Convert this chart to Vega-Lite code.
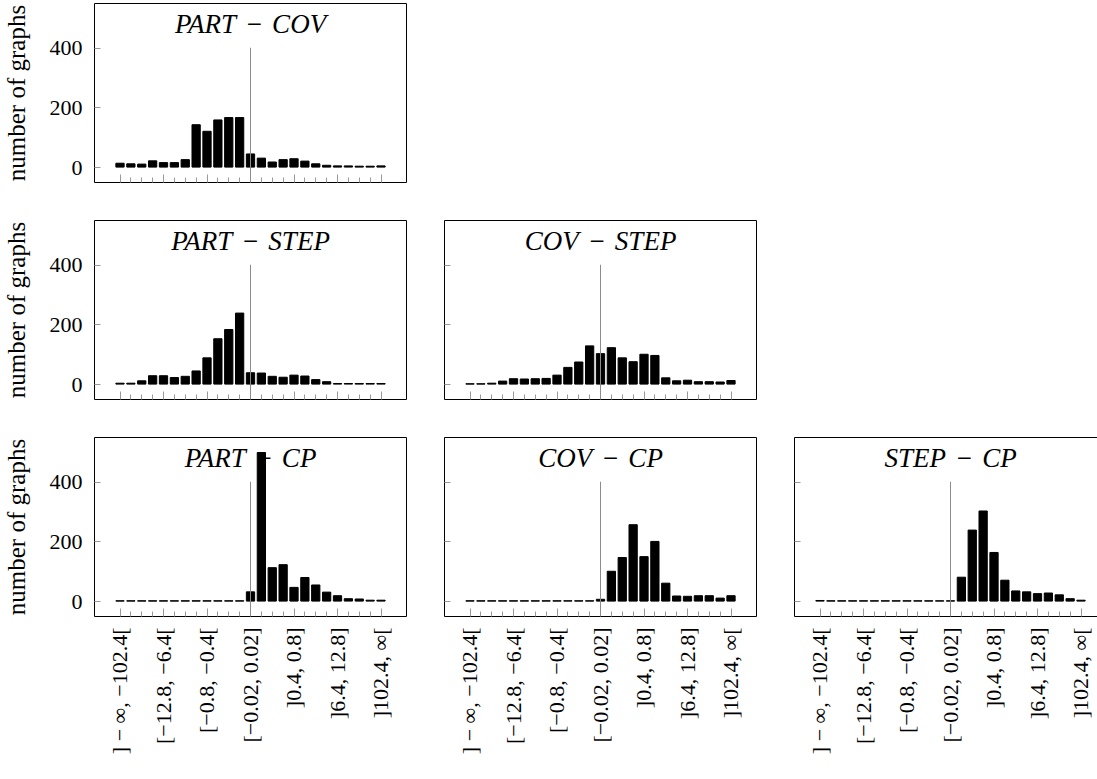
{
  "$schema": "https://vega.github.io/schema/vega-lite/v6.json",
  "padding": {"left": 3, "top": 2, "right": 0, "bottom": 0},
  "background": "white",
  "data": {"values": [
    {"pair":"PART-COV","idx":0,"count":13},{"pair":"PART-COV","idx":1,"count":11},{"pair":"PART-COV","idx":2,"count":10},{"pair":"PART-COV","idx":3,"count":21},{"pair":"PART-COV","idx":4,"count":15},{"pair":"PART-COV","idx":5,"count":15},{"pair":"PART-COV","idx":6,"count":25},{"pair":"PART-COV","idx":7,"count":142},{"pair":"PART-COV","idx":8,"count":120},{"pair":"PART-COV","idx":9,"count":158},{"pair":"PART-COV","idx":10,"count":166},{"pair":"PART-COV","idx":11,"count":166},{"pair":"PART-COV","idx":12,"count":44},{"pair":"PART-COV","idx":13,"count":30},{"pair":"PART-COV","idx":14,"count":17},{"pair":"PART-COV","idx":15,"count":25},{"pair":"PART-COV","idx":16,"count":28},{"pair":"PART-COV","idx":17,"count":20},{"pair":"PART-COV","idx":18,"count":11},{"pair":"PART-COV","idx":19,"count":6},{"pair":"PART-COV","idx":20,"count":4},{"pair":"PART-COV","idx":21,"count":4},{"pair":"PART-COV","idx":22,"count":3},{"pair":"PART-COV","idx":23,"count":3},{"pair":"PART-COV","idx":24,"count":4},
    {"pair":"PART-STEP","idx":0,"count":3},{"pair":"PART-STEP","idx":1,"count":3},{"pair":"PART-STEP","idx":2,"count":11},{"pair":"PART-STEP","idx":3,"count":28},{"pair":"PART-STEP","idx":4,"count":28},{"pair":"PART-STEP","idx":5,"count":22},{"pair":"PART-STEP","idx":6,"count":26},{"pair":"PART-STEP","idx":7,"count":44},{"pair":"PART-STEP","idx":8,"count":88},{"pair":"PART-STEP","idx":9,"count":152},{"pair":"PART-STEP","idx":10,"count":183},{"pair":"PART-STEP","idx":11,"count":238},{"pair":"PART-STEP","idx":12,"count":38},{"pair":"PART-STEP","idx":13,"count":37},{"pair":"PART-STEP","idx":14,"count":26},{"pair":"PART-STEP","idx":15,"count":23},{"pair":"PART-STEP","idx":16,"count":30},{"pair":"PART-STEP","idx":17,"count":27},{"pair":"PART-STEP","idx":18,"count":15},{"pair":"PART-STEP","idx":19,"count":8},{"pair":"PART-STEP","idx":20,"count":2},{"pair":"PART-STEP","idx":21,"count":2},{"pair":"PART-STEP","idx":22,"count":2},{"pair":"PART-STEP","idx":23,"count":2},{"pair":"PART-STEP","idx":24,"count":2},
    {"pair":"COV-STEP","idx":0,"count":1},{"pair":"COV-STEP","idx":1,"count":1},{"pair":"COV-STEP","idx":2,"count":3},{"pair":"COV-STEP","idx":3,"count":10},{"pair":"COV-STEP","idx":4,"count":18},{"pair":"COV-STEP","idx":5,"count":17},{"pair":"COV-STEP","idx":6,"count":18},{"pair":"COV-STEP","idx":7,"count":19},{"pair":"COV-STEP","idx":8,"count":30},{"pair":"COV-STEP","idx":9,"count":56},{"pair":"COV-STEP","idx":10,"count":74},{"pair":"COV-STEP","idx":11,"count":128},{"pair":"COV-STEP","idx":12,"count":102},{"pair":"COV-STEP","idx":13,"count":122},{"pair":"COV-STEP","idx":14,"count":88},{"pair":"COV-STEP","idx":15,"count":75},{"pair":"COV-STEP","idx":16,"count":100},{"pair":"COV-STEP","idx":17,"count":96},{"pair":"COV-STEP","idx":18,"count":21},{"pair":"COV-STEP","idx":19,"count":11},{"pair":"COV-STEP","idx":20,"count":13},{"pair":"COV-STEP","idx":21,"count":8},{"pair":"COV-STEP","idx":22,"count":8},{"pair":"COV-STEP","idx":23,"count":7},{"pair":"COV-STEP","idx":24,"count":12},
    {"pair":"PART-CP","idx":0,"count":1},{"pair":"PART-CP","idx":1,"count":1},{"pair":"PART-CP","idx":2,"count":1},{"pair":"PART-CP","idx":3,"count":1},{"pair":"PART-CP","idx":4,"count":1},{"pair":"PART-CP","idx":5,"count":1},{"pair":"PART-CP","idx":6,"count":1},{"pair":"PART-CP","idx":7,"count":1},{"pair":"PART-CP","idx":8,"count":1},{"pair":"PART-CP","idx":9,"count":1},{"pair":"PART-CP","idx":10,"count":1},{"pair":"PART-CP","idx":11,"count":1},{"pair":"PART-CP","idx":12,"count":31},{"pair":"PART-CP","idx":13,"count":498},{"pair":"PART-CP","idx":14,"count":112},{"pair":"PART-CP","idx":15,"count":122},{"pair":"PART-CP","idx":16,"count":46},{"pair":"PART-CP","idx":17,"count":79},{"pair":"PART-CP","idx":18,"count":54},{"pair":"PART-CP","idx":19,"count":30},{"pair":"PART-CP","idx":20,"count":18},{"pair":"PART-CP","idx":21,"count":8},{"pair":"PART-CP","idx":22,"count":7},{"pair":"PART-CP","idx":23,"count":3},{"pair":"PART-CP","idx":24,"count":3},
    {"pair":"COV-CP","idx":0,"count":1},{"pair":"COV-CP","idx":1,"count":1},{"pair":"COV-CP","idx":2,"count":1},{"pair":"COV-CP","idx":3,"count":1},{"pair":"COV-CP","idx":4,"count":1},{"pair":"COV-CP","idx":5,"count":1},{"pair":"COV-CP","idx":6,"count":1},{"pair":"COV-CP","idx":7,"count":1},{"pair":"COV-CP","idx":8,"count":1},{"pair":"COV-CP","idx":9,"count":1},{"pair":"COV-CP","idx":10,"count":1},{"pair":"COV-CP","idx":11,"count":1},{"pair":"COV-CP","idx":12,"count":6},{"pair":"COV-CP","idx":13,"count":100},{"pair":"COV-CP","idx":14,"count":146},{"pair":"COV-CP","idx":15,"count":256},{"pair":"COV-CP","idx":16,"count":149},{"pair":"COV-CP","idx":17,"count":200},{"pair":"COV-CP","idx":18,"count":60},{"pair":"COV-CP","idx":19,"count":17},{"pair":"COV-CP","idx":20,"count":16},{"pair":"COV-CP","idx":21,"count":18},{"pair":"COV-CP","idx":22,"count":18},{"pair":"COV-CP","idx":23,"count":10},{"pair":"COV-CP","idx":24,"count":18},
    {"pair":"STEP-CP","idx":0,"count":2},{"pair":"STEP-CP","idx":1,"count":1},{"pair":"STEP-CP","idx":2,"count":1},{"pair":"STEP-CP","idx":3,"count":1},{"pair":"STEP-CP","idx":4,"count":1},{"pair":"STEP-CP","idx":5,"count":1},{"pair":"STEP-CP","idx":6,"count":1},{"pair":"STEP-CP","idx":7,"count":1},{"pair":"STEP-CP","idx":8,"count":1},{"pair":"STEP-CP","idx":9,"count":1},{"pair":"STEP-CP","idx":10,"count":1},{"pair":"STEP-CP","idx":11,"count":1},{"pair":"STEP-CP","idx":12,"count":1},{"pair":"STEP-CP","idx":13,"count":80},{"pair":"STEP-CP","idx":14,"count":238},{"pair":"STEP-CP","idx":15,"count":302},{"pair":"STEP-CP","idx":16,"count":163},{"pair":"STEP-CP","idx":17,"count":70},{"pair":"STEP-CP","idx":18,"count":34},{"pair":"STEP-CP","idx":19,"count":31},{"pair":"STEP-CP","idx":20,"count":25},{"pair":"STEP-CP","idx":21,"count":27},{"pair":"STEP-CP","idx":22,"count":21},{"pair":"STEP-CP","idx":23,"count":8},{"pair":"STEP-CP","idx":24,"count":3}
  ]},
  "config": {
    "view": {"stroke": "#000", "strokeWidth": 1},
    "concat": {"spacing": 36},
    "axis": {"domain": false, "grid": false, "tickColor": "#999", "tickWidth": 1, "labelFont": "Liberation Serif", "labelFontSize": 22, "labelColor": "#000", "titleFont": "Liberation Serif", "titleFontSize": 25, "titleFontWeight": "normal", "titleColor": "#000"}
  },
  "vconcat": [
    {"hconcat": [
      {"width": 312, "height": 179, "layer": [
        {"data": {"values": [{}]}, "mark": {"type": "text", "font": "Liberation Serif", "fontStyle": "italic", "fontSize": 27, "baseline": "alphabetic", "color": "#000"}, "encoding": {"x": {"datum": 12, "type": "ordinal"}, "y": {"datum": 450, "type": "quantitative"}, "text": {"value": "PART\u2004−\u2004COV"}}},
        {"transform": [{"filter": "datum.pair === 'PART-COV'"}], "mark": {"type": "bar", "color": "#000", "stroke": "#000", "strokeWidth": 1},
         "encoding": {
          "x": {"field": "idx", "type": "ordinal", "scale": {"paddingInner": 0.24, "paddingOuter": 0, "range": [21.87, 291.14]}, "axis": {"title": null, "labels": false, "bandPosition": 0.5, "tickSize": {"condition": {"test": "datum.value % 4 === 0", "value": -8}, "value": -5}}},
          "y": {"field": "count", "type": "quantitative", "scale": {"domain": [-50, 550], "nice": false, "zero": false}, "axis": {"values": [0, 200, 400], "tickSize": -6, "labelPadding": 18, "title": "number of graphs", "titlePadding": 20}}}},
        {"data": {"values": [{}]}, "mark": {"type": "rule", "color": "#8c8c8c", "strokeWidth": 1}, "encoding": {"x": {"datum": 12, "type": "ordinal"}, "y": {"datum": -50, "type": "quantitative"}, "y2": {"datum": 400}}}
      ]}
    ]},
    {"hconcat": [
      {"width": 312, "height": 179, "layer": [
        {"data": {"values": [{}]}, "mark": {"type": "text", "font": "Liberation Serif", "fontStyle": "italic", "fontSize": 27, "baseline": "alphabetic", "color": "#000"}, "encoding": {"x": {"datum": 12, "type": "ordinal"}, "y": {"datum": 450, "type": "quantitative"}, "text": {"value": "PART\u2004−\u2004STEP"}}},
        {"transform": [{"filter": "datum.pair === 'PART-STEP'"}], "mark": {"type": "bar", "color": "#000", "stroke": "#000", "strokeWidth": 1},
         "encoding": {
          "x": {"field": "idx", "type": "ordinal", "scale": {"paddingInner": 0.24, "paddingOuter": 0, "range": [21.87, 291.14]}, "axis": {"title": null, "labels": false, "bandPosition": 0.5, "tickSize": {"condition": {"test": "datum.value % 4 === 0", "value": -8}, "value": -5}}},
          "y": {"field": "count", "type": "quantitative", "scale": {"domain": [-50, 550], "nice": false, "zero": false}, "axis": {"values": [0, 200, 400], "tickSize": -6, "labelPadding": 18, "title": "number of graphs", "titlePadding": 20}}}},
        {"data": {"values": [{}]}, "mark": {"type": "rule", "color": "#8c8c8c", "strokeWidth": 1}, "encoding": {"x": {"datum": 12, "type": "ordinal"}, "y": {"datum": -50, "type": "quantitative"}, "y2": {"datum": 400}}}
      ]},
      {"width": 312, "height": 179, "layer": [
        {"data": {"values": [{}]}, "mark": {"type": "text", "font": "Liberation Serif", "fontStyle": "italic", "fontSize": 27, "baseline": "alphabetic", "color": "#000"}, "encoding": {"x": {"datum": 12, "type": "ordinal"}, "y": {"datum": 450, "type": "quantitative"}, "text": {"value": "COV\u2004−\u2004STEP"}}},
        {"transform": [{"filter": "datum.pair === 'COV-STEP'"}], "mark": {"type": "bar", "color": "#000", "stroke": "#000", "strokeWidth": 1},
         "encoding": {
          "x": {"field": "idx", "type": "ordinal", "scale": {"paddingInner": 0.24, "paddingOuter": 0, "range": [21.87, 291.14]}, "axis": {"title": null, "labels": false, "bandPosition": 0.5, "tickSize": {"condition": {"test": "datum.value % 4 === 0", "value": -8}, "value": -5}}},
          "y": {"field": "count", "type": "quantitative", "scale": {"domain": [-50, 550], "nice": false, "zero": false}, "axis": {"values": [0, 200, 400], "tickSize": -6, "labels": false, "title": null}}}},
        {"data": {"values": [{}]}, "mark": {"type": "rule", "color": "#8c8c8c", "strokeWidth": 1}, "encoding": {"x": {"datum": 12, "type": "ordinal"}, "y": {"datum": -50, "type": "quantitative"}, "y2": {"datum": 400}}}
      ]}
    ]},
    {"hconcat": [
      {"width": 312, "height": 179, "layer": [
        {"data": {"values": [{}]}, "mark": {"type": "text", "font": "Liberation Serif", "fontStyle": "italic", "fontSize": 27, "baseline": "alphabetic", "color": "#000"}, "encoding": {"x": {"datum": 12, "type": "ordinal"}, "y": {"datum": 450, "type": "quantitative"}, "text": {"value": "PART\u2004−\u2004CP"}}},
        {"transform": [{"filter": "datum.pair === 'PART-CP'"}], "mark": {"type": "bar", "color": "#000", "stroke": "#000", "strokeWidth": 1},
         "encoding": {
          "x": {"field": "idx", "type": "ordinal", "scale": {"paddingInner": 0.24, "paddingOuter": 0, "range": [21.87, 291.14]}, "axis": {"title": null, "bandPosition": 0.5, "labelAngle": -90, "labelAlign": "right", "labelBaseline": "middle", "labelPadding": 19, "labelExpr": "datum.value % 4 === 0 ? ['] − ∞, −102.4[', '[−12.8, −6.4[', '[−0.8, −0.4[', '[−0.02, 0.02]', ']0.4, 0.8]', ']6.4, 12.8]', ']102.4, ∞['][datum.value / 4] : ''", "tickSize": {"condition": {"test": "datum.value % 4 === 0", "value": -8}, "value": -5}}},
          "y": {"field": "count", "type": "quantitative", "scale": {"domain": [-50, 550], "nice": false, "zero": false}, "axis": {"values": [0, 200, 400], "tickSize": -6, "labelPadding": 18, "title": "number of graphs", "titlePadding": 20}}}},
        {"data": {"values": [{}]}, "mark": {"type": "rule", "color": "#8c8c8c", "strokeWidth": 1}, "encoding": {"x": {"datum": 12, "type": "ordinal"}, "y": {"datum": -50, "type": "quantitative"}, "y2": {"datum": 400}}}
      ]},
      {"width": 312, "height": 179, "layer": [
        {"data": {"values": [{}]}, "mark": {"type": "text", "font": "Liberation Serif", "fontStyle": "italic", "fontSize": 27, "baseline": "alphabetic", "color": "#000"}, "encoding": {"x": {"datum": 12, "type": "ordinal"}, "y": {"datum": 450, "type": "quantitative"}, "text": {"value": "COV\u2004−\u2004CP"}}},
        {"transform": [{"filter": "datum.pair === 'COV-CP'"}], "mark": {"type": "bar", "color": "#000", "stroke": "#000", "strokeWidth": 1},
         "encoding": {
          "x": {"field": "idx", "type": "ordinal", "scale": {"paddingInner": 0.24, "paddingOuter": 0, "range": [21.87, 291.14]}, "axis": {"title": null, "bandPosition": 0.5, "labelAngle": -90, "labelAlign": "right", "labelBaseline": "middle", "labelPadding": 19, "labelExpr": "datum.value % 4 === 0 ? ['] − ∞, −102.4[', '[−12.8, −6.4[', '[−0.8, −0.4[', '[−0.02, 0.02]', ']0.4, 0.8]', ']6.4, 12.8]', ']102.4, ∞['][datum.value / 4] : ''", "tickSize": {"condition": {"test": "datum.value % 4 === 0", "value": -8}, "value": -5}}},
          "y": {"field": "count", "type": "quantitative", "scale": {"domain": [-50, 550], "nice": false, "zero": false}, "axis": {"values": [0, 200, 400], "tickSize": -6, "labels": false, "title": null}}}},
        {"data": {"values": [{}]}, "mark": {"type": "rule", "color": "#8c8c8c", "strokeWidth": 1}, "encoding": {"x": {"datum": 12, "type": "ordinal"}, "y": {"datum": -50, "type": "quantitative"}, "y2": {"datum": 400}}}
      ]},
      {"width": 312, "height": 179, "layer": [
        {"data": {"values": [{}]}, "mark": {"type": "text", "font": "Liberation Serif", "fontStyle": "italic", "fontSize": 27, "baseline": "alphabetic", "color": "#000"}, "encoding": {"x": {"datum": 12, "type": "ordinal"}, "y": {"datum": 450, "type": "quantitative"}, "text": {"value": "STEP\u2004−\u2004CP"}}},
        {"transform": [{"filter": "datum.pair === 'STEP-CP'"}], "mark": {"type": "bar", "color": "#000", "stroke": "#000", "strokeWidth": 1},
         "encoding": {
          "x": {"field": "idx", "type": "ordinal", "scale": {"paddingInner": 0.24, "paddingOuter": 0, "range": [21.87, 291.14]}, "axis": {"title": null, "bandPosition": 0.5, "labelAngle": -90, "labelAlign": "right", "labelBaseline": "middle", "labelPadding": 19, "labelExpr": "datum.value % 4 === 0 ? ['] − ∞, −102.4[', '[−12.8, −6.4[', '[−0.8, −0.4[', '[−0.02, 0.02]', ']0.4, 0.8]', ']6.4, 12.8]', ']102.4, ∞['][datum.value / 4] : ''", "tickSize": {"condition": {"test": "datum.value % 4 === 0", "value": -8}, "value": -5}}},
          "y": {"field": "count", "type": "quantitative", "scale": {"domain": [-50, 550], "nice": false, "zero": false}, "axis": {"values": [0, 200, 400], "tickSize": -6, "labels": false, "title": null}}}},
        {"data": {"values": [{}]}, "mark": {"type": "rule", "color": "#8c8c8c", "strokeWidth": 1}, "encoding": {"x": {"datum": 12, "type": "ordinal"}, "y": {"datum": -50, "type": "quantitative"}, "y2": {"datum": 400}}}
      ]}
    ]}
  ]
}
